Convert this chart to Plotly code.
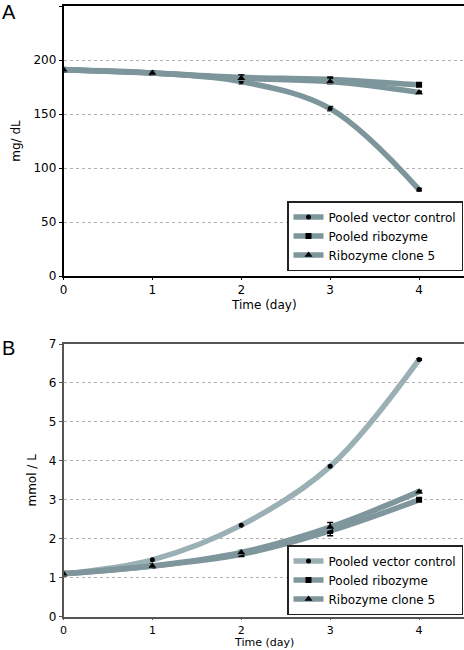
import plotly.graph_objects as go

days = [0, 1, 2, 3, 4]
series_names = ["Pooled vector control", "Pooled ribozyme", "Ribozyme clone 5"]

a_vector = [191, 188, 180, 155, 80]
a_ribo = [191, 188, 184, 182, 177]
a_clone = [191, 188, 183, 180, 170]
a_vector_err = [1, 1, 2, 2, 1]
a_ribo_err = [1, 1, 2, 2, 1]
a_clone_err = [1, 1, 2, 2, 1]

b_vector = [1.1, 1.46, 2.35, 3.86, 6.6]
b_ribo = [1.1, 1.3, 1.6, 2.2, 3.0]
b_clone = [1.1, 1.3, 1.65, 2.3, 3.21]
b_vector_err = [0.02, 0.02, 0.02, 0.02, 0.02]
b_ribo_err = [0.02, 0.03, 0.05, 0.12, 0.03]
b_clone_err = [0.02, 0.03, 0.05, 0.12, 0.03]

y_ticks_a = [0, 50, 100, 150, 200, 250]
y_ticks_b = [0, 1, 2, 3, 4, 5, 6, 7]
x_ticks = [0, 1, 2, 3, 4]

FONT = "DejaVu Sans"
symbols = ["circle", "square", "triangle-up"]
msizes = [5, 6, 7]
col_a = ["#7d969b", "#7d969b", "#7d969b"]
col_b = ["#9ab0b5", "#7f979c", "#7f979c"]

fig = go.Figure()

def add_panel(ys, errs, cols, xa, ya, legend):
    for i, (y, e) in enumerate(zip(ys, errs)):
        fig.add_trace(go.Scatter(
            x=days, y=y, name=series_names[i], mode="lines+markers",
            line=dict(color=cols[i], width=5.5, shape="spline", smoothing=1),
            marker=dict(symbol=symbols[i], size=msizes[i], color="black"),
            error_y=dict(type="data", array=e, color="black", thickness=1.5, width=3),
            xaxis=xa, yaxis=ya, legend=legend, showlegend=True,
        ))

add_panel([a_vector, a_ribo, a_clone], [a_vector_err, a_ribo_err, a_clone_err], col_a, "x", "y", "legend")
add_panel([b_vector, b_ribo, b_clone], [b_vector_err, b_ribo_err, b_clone_err], col_b, "x2", "y2", "legend2")

W, H = 464, 650
xdom = [63.5 / W, 463.5 / W]
ydom_a = [1 - 276 / H, 1 - 6 / H]
ydom_b = [1 - 616.7 / H, 1 - 344 / H]

def xaxis(dom, anchor, linecolor, fs):
    return dict(domain=dom, anchor=anchor, range=[0, 4.5], tickvals=x_ticks,
                showgrid=False, zeroline=False, showline=True, linecolor=linecolor,
                linewidth=1.5, mirror=True, ticks="outside", ticklen=2, tickcolor=linecolor,
                tickfont=dict(family=FONT, size=fs, color="black"),
                automargin=False)

def yaxis(dom, anchor, rng, tv, title, linecolor):
    return dict(domain=dom, anchor=anchor, range=rng, tickvals=tv,
                showgrid=True, gridcolor="#b0b0b0", griddash="dot", gridwidth=1,
                zeroline=False, showline=True, linecolor=linecolor, linewidth=1.5, mirror=True,
                ticks="outside", ticklen=3, tickcolor=linecolor,
                tickfont=dict(family=FONT, size=12, color="black"),
                title=dict(text=title, font=dict(family=FONT, size=12, color="black"), standoff=10),
                automargin=False)

leg_common = dict(font=dict(family=FONT, size=12, color="black"), bordercolor="#222222",
                  borderwidth=1.5, bgcolor="white", xanchor="right", yanchor="bottom",
                  itemwidth=30, tracegroupgap=0)

xmid = (xdom[0] + xdom[1]) / 2
fig.update_layout(
    width=W, height=H, margin=dict(l=0, r=0, t=0, b=0),
    paper_bgcolor="white", plot_bgcolor="white",
    xaxis=xaxis(xdom, "y", "black", 12),
    yaxis=yaxis(ydom_a, "x", [0, 250], y_ticks_a, "mg/ dL", "black"),
    xaxis2=xaxis(xdom, "y2", "#555555", 11),
    yaxis2=yaxis(ydom_b, "x2", [0, 7], y_ticks_b, "mmol / L", "#555555"),
    legend=dict(x=463 / W, y=1 - 271 / H, **leg_common),
    legend2=dict(x=463 / W, y=1 - 615 / H, **leg_common),
    annotations=[
        dict(text="A", x=0, y=1 - 12 / H, xref="paper", yref="paper", xanchor="left", yanchor="middle",
             showarrow=False, font=dict(family="Liberation Sans", size=20, color="black")),
        dict(text="B", x=0, y=1 - 348 / H, xref="paper", yref="paper", xanchor="left", yanchor="middle",
             showarrow=False, font=dict(family="Liberation Sans", size=20, color="black")),
        dict(text="Time (day)", x=xmid, y=1 - 305 / H, xref="paper", yref="paper",
             xanchor="center", yanchor="middle", showarrow=False,
             font=dict(family=FONT, size=12, color="black")),
        dict(text="Time (day)", x=xmid, y=0, xref="paper", yref="paper",
             xanchor="center", yanchor="bottom", showarrow=False, yshift=-1,
             font=dict(family=FONT, size=11, color="black")),
    ],
)

fig.write_html("out.html", config={"displayModeBar": False},
               post_script="document.body.style.margin='0px';document.body.style.overflow='hidden';")
